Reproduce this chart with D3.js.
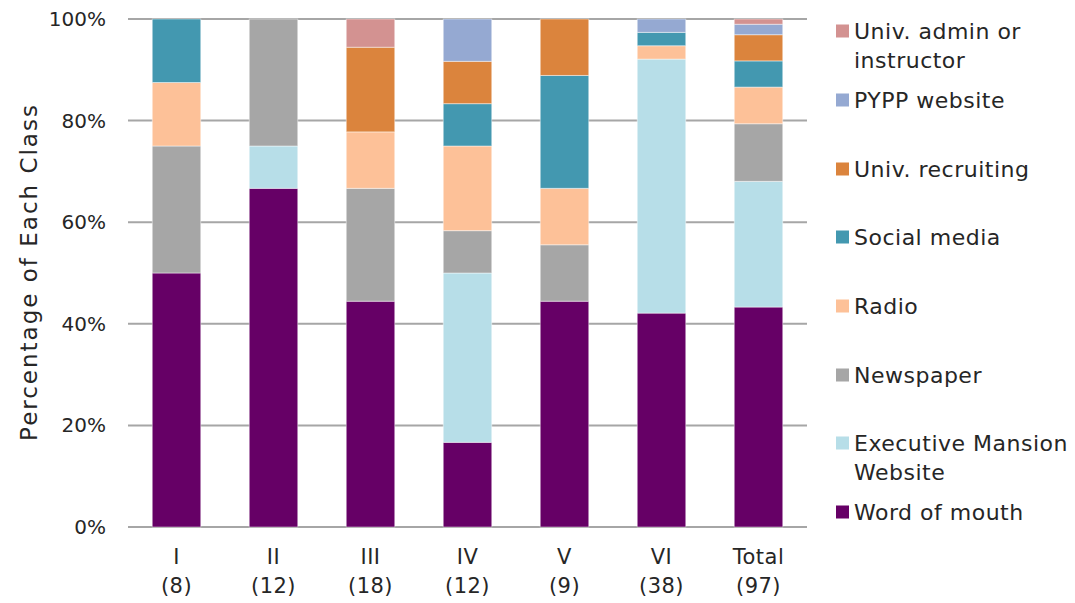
<!DOCTYPE html>
<html>
<head>
<meta charset="utf-8">
<script src="https://cdn.jsdelivr.net/npm/d3@7"></script>
<style>
  html, body { margin: 0; padding: 0; background: #fff; }
  svg { display: block; font-family: "DejaVu Sans", sans-serif; }
</style>
</head>
<body>
<svg id="chart" width="1075" height="603"></svg>
<script>
// Class groups and their sizes (number of respondents)
const classes = ["I", "II", "III", "IV", "V", "VI", "Total"];
const classSizes = [8, 12, 18, 12, 9, 38, 97];

// Respondent counts per information source, one value per class
const wordOfMouth     = [4, 8, 8, 2, 4, 16, 42];
const execMansionSite = [0, 1, 0, 4, 0, 19, 24];
const newspaper       = [2, 3, 4, 1, 1, 0, 11];
const radio           = [1, 0, 2, 2, 1, 1, 7];
const socialMedia     = [1, 0, 0, 1, 2, 1, 5];
const univRecruiting  = [0, 0, 3, 1, 1, 0, 5];
const pyppWebsite     = [0, 0, 0, 1, 0, 1, 2];
const univAdmin       = [0, 0, 1, 0, 0, 0, 1];

const yTicks = [0, 0.2, 0.4, 0.6, 0.8, 1.0];

const series = [
  { key: "wom",   label: ["Word of mouth"],                  values: wordOfMouth,     color: "#660066" },
  { key: "exec",  label: ["Executive Mansion", "Website"],   values: execMansionSite, color: "#b7dee8" },
  { key: "news",  label: ["Newspaper"],                      values: newspaper,       color: "#a6a6a6" },
  { key: "radio", label: ["Radio"],                          values: radio,           color: "#fdc198" },
  { key: "soc",   label: ["Social media"],                   values: socialMedia,     color: "#4398b0" },
  { key: "rec",   label: ["Univ. recruiting"],               values: univRecruiting,  color: "#db843d" },
  { key: "pypp",  label: ["PYPP website"],                   values: pyppWebsite,     color: "#95a9d2" },
  { key: "admin", label: ["Univ. admin or", "instructor"],   values: univAdmin,       color: "#d39291" }
];

const rows = classes.map((c, i) => {
  const r = { cls: c, n: classSizes[i] };
  series.forEach(s => { r[s.key] = s.values[i]; });
  return r;
});

const svg = d3.select("#chart");
const margin = { left: 128, right: 268, top: 19, bottom: 76 };
const W = 1075, H = 603;
const x = d3.scaleBand().domain(classes).range([margin.left, W - margin.right]).paddingInner(0.5).paddingOuter(0.25);
const y = d3.scaleLinear().domain([0, 1]).range([H - margin.bottom, margin.top]);

const stack = d3.stack().keys(series.map(s => s.key)).offset(d3.stackOffsetExpand);
const layers = stack(rows);

// Gridlines
svg.append("g")
  .selectAll("line").data(yTicks).join("line")
  .attr("x1", margin.left).attr("x2", W - margin.right)
  .attr("y1", d => y(d)).attr("y2", d => y(d))
  .attr("stroke", "#a6a6a6").attr("stroke-width", 2);

// Stacked bars
svg.append("g").selectAll("g").data(layers).join("g")
  .attr("fill", (d, i) => series[i].color)
  .selectAll("rect").data(d => d.filter(p => p[1] - p[0] > 0)).join("rect")
  .attr("x", d => x(d.data.cls))
  .attr("width", x.bandwidth())
  .attr("y", d => y(d[1]))
  .attr("height", d => y(d[0]) - y(d[1]))
  .attr("stroke", "rgba(255,255,255,0.45)")
  .attr("stroke-width", 1);

// Y axis labels
const yAxis = d3.axisLeft(y).tickValues(yTicks).tickFormat(d3.format(".0%")).tickSize(0).tickPadding(22);
const ya = svg.append("g").attr("transform", `translate(${margin.left},0)`).call(yAxis);
ya.select(".domain").remove();
ya.selectAll("text").attr("font-size", 20).attr("fill", "#262626").attr("font-family", "DejaVu Sans, sans-serif");

// X axis labels (class + size)
const xa = svg.append("g");
classes.forEach((c, i) => {
  const cx = x(c) + x.bandwidth() / 2;
  const t = xa.append("text").attr("text-anchor", "middle").attr("font-size", 21).attr("fill", "#262626")
    .attr("letter-spacing", 0.5);
  t.append("tspan").attr("x", cx).attr("y", 564).text(c);
  t.append("tspan").attr("x", cx).attr("y", 593).text(`(${classSizes[i]})`);
});

// Y axis title
svg.append("text")
  .attr("transform", `translate(37,272) rotate(-90)`)
  .attr("text-anchor", "middle").attr("font-size", 23).attr("fill", "#262626")
  .attr("letter-spacing", 2)
  .text("Percentage of Each Class");

// Legend (top entry is the top of the stack)
const legendItems = series.slice().reverse();
const legendY = [31, 100, 169, 237, 306, 375, 443, 512];
const lg = svg.append("g");
legendItems.forEach((s, i) => {
  const cy = legendY[i];
  lg.append("rect").attr("x", 836).attr("y", cy - 6.5).attr("width", 13).attr("height", 13).attr("fill", s.color);
  const t = lg.append("text").attr("font-size", 22).attr("fill", "#262626").attr("letter-spacing", 0.5);
  s.label.forEach((line, j) => {
    t.append("tspan").attr("x", 854).attr("y", cy + 8 + j * 29).text(line);
  });
});
</script>
</body>
</html>
